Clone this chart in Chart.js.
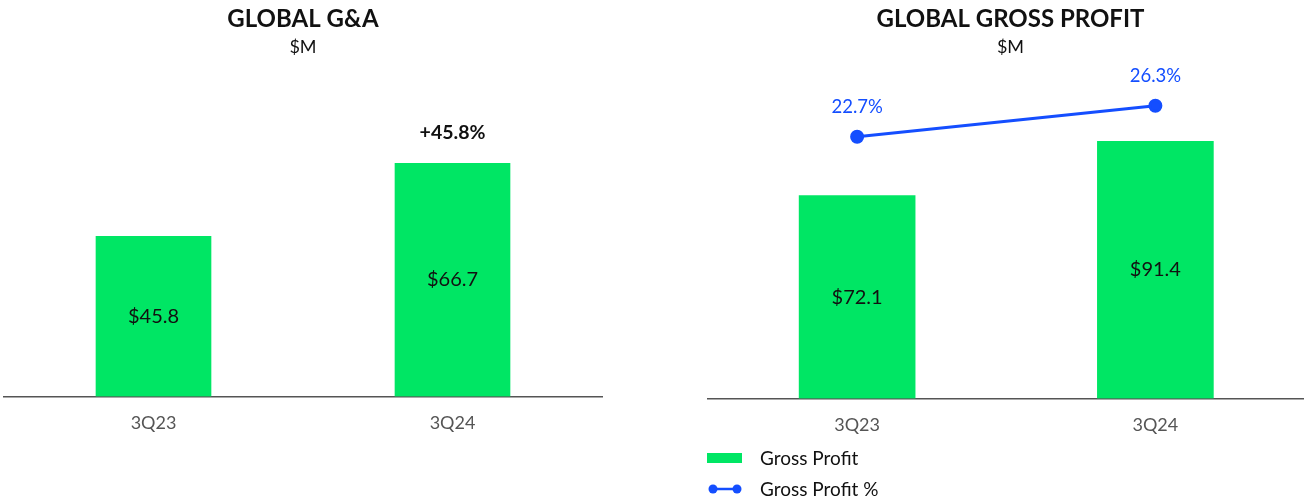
<!DOCTYPE html>
<html>
<head>
<meta charset="utf-8">
<script src="https://cdn.jsdelivr.net/npm/chart.js@4"></script>
<style>
  body { margin: 0; background: #fff; font-family: Lato, sans-serif; }
  .wrap { position: relative; width: 1304px; height: 497px; overflow: hidden; }
  #ga-chart { position: absolute; left: 0; top: 0; }
  #gp-chart { position: absolute; left: 650px; top: 0; }
  .legend { position: absolute; left: 707px; top: 442px; font-size: 19px; color: #111; }
  .legend-item { display: flex; align-items: center; height: 31px; }
  .legend-key { width: 36px; margin-right: 17px; }
</style>
</head>
<body>
<div class="wrap">
  <canvas id="ga-chart" width="606" height="497"></canvas>
  <canvas id="gp-chart" width="663" height="497"></canvas>
  <div class="legend" id="gp-legend"></div>
</div>
<script>
// ---------------- data ----------------
const categories = ['3Q23', '3Q24'];
const gaValues = [45.8, 66.7];
const gaGrowthLabels = ['', '+45.8%'];
const gpValues = [72.1, 91.4];
const gpPercent = [22.7, 26.3];

const GREEN = 'rgb(0, 230, 100)';
const BLUE = 'rgb(20, 78, 255)';
const FONT = 'Lato, sans-serif';

// draws value labels on bars / points
const valueLabels = {
    id: 'valueLabels',
    afterDatasetsDraw(chart) {
        const ctx = chart.ctx;
        chart.data.datasets.forEach((ds, i) => {
            const meta = chart.getDatasetMeta(i);
            meta.data.forEach((el, j) => {
                ctx.save();
                ctx.textAlign = 'center';
                ctx.textBaseline = 'middle';
                if (ds.type === 'line') {
                    ctx.fillStyle = BLUE;
                    ctx.font = '18.5px ' + FONT;
                    ctx.fillText(ds.data[j].toFixed(1) + '%', el.x, el.y - 30);
                } else {
                    ctx.fillStyle = '#111';
                    ctx.font = '20px ' + FONT;
                    ctx.fillText('$' + ds.data[j].toFixed(1), el.x, (el.y + el.base) / 2);
                    if (ds.topLabels && ds.topLabels[j]) {
                        ctx.font = 'bold 19.5px ' + FONT;
                        ctx.fillText(ds.topLabels[j], el.x, el.y - 31);
                    }
                }
                ctx.restore();
            });
        });
    }
};

const baseOptions = (title, yMax, padLeft, padRight) => ({
    responsive: false,
    animation: false,
    layout: { padding: { left: padLeft, right: padRight, top: 0, bottom: 47 } },
    plugins: {
        legend: { display: false },
        tooltip: { enabled: false },
        title: {
            display: true,
            text: title,
            color: '#111',
            font: { family: FONT, size: 24, weight: 'bold' },
            padding: { top: 5, bottom: 3 }
        },
        subtitle: {
            display: true,
            text: '$M',
            color: '#111',
            font: { family: FONT, size: 18 },
            padding: { top: 0, bottom: 6 }
        }
    },
    scales: {
        x: {
            grid: { display: false, drawTicks: false },
            border: { display: true, color: '#555', width: 1.5 },
            ticks: { color: '#555', font: { family: FONT, size: 18 }, padding: 16 }
        },
        y: { display: false, min: 0, max: yMax }
    }
});

// -------- 1. Global G&A ------------ //
const gaCanvas = document.getElementById('ga-chart');
new Chart(gaCanvas, {
    type: 'bar',
    data: {
        labels: categories,
        datasets: [{
            label: 'G&A',
            data: gaValues,
            topLabels: gaGrowthLabels,
            backgroundColor: GREEN,
            barThickness: 115
        }]
    },
    options: baseOptions('GLOBAL G&A', 95, 4, 4),
    plugins: [valueLabels]
});

// -------- 2. Global Gross Profit ------------ //
const gpCanvas = document.getElementById('gp-chart');
const gpOptions = baseOptions('GLOBAL GROSS PROFIT', 118.8, 58, 0);
gpOptions.scales.y1 = { display: false, min: -7.7, max: 31.1 };
gpOptions.layout.padding.bottom = 45;

new Chart(gpCanvas, {
    data: {
        labels: categories,
        datasets: [{
            type: 'line',
            label: 'Gross Profit %',
            data: gpPercent,
            yAxisID: 'y1',
            borderColor: BLUE,
            backgroundColor: BLUE,
            borderWidth: 3,
            pointRadius: 5.5,
            order: 0
        }, {
            type: 'bar',
            label: 'Gross Profit',
            data: gpValues,
            yAxisID: 'y',
            backgroundColor: GREEN,
            barThickness: 116,
            order: 1
        }]
    },
    options: gpOptions,
    plugins: [valueLabels]
});

// legend (html) for gross profit chart
const legend = document.getElementById('gp-legend');
legend.innerHTML = `
<div class="legend-item">
  <svg class="legend-key" width="36" height="12"><rect x="0" y="1" width="35" height="10" fill="${GREEN}"/></svg>
  <span>Gross Profit</span>
</div>
<div class="legend-item">
  <svg class="legend-key" width="36" height="12"><line x1="6" y1="6" x2="30" y2="6" stroke="${BLUE}" stroke-width="2.5"/><circle cx="6" cy="6" r="4.5" fill="${BLUE}"/><circle cx="30" cy="6" r="4.5" fill="${BLUE}"/></svg>
  <span>Gross Profit %</span>
</div>
`;
</script>
</body>
</html>
